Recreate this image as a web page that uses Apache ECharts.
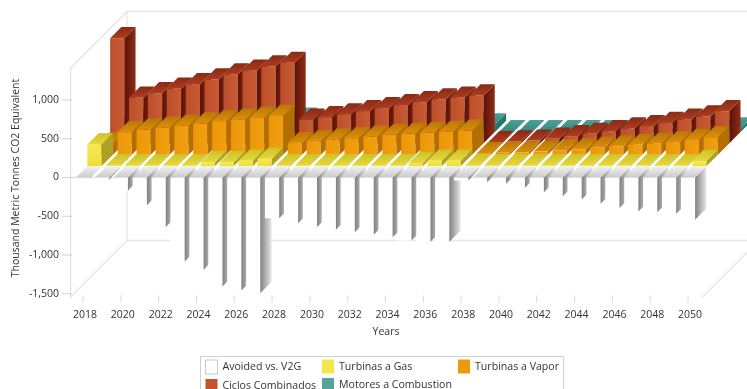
<!DOCTYPE html>
<html>
<head>
<meta charset="utf-8">
<style>html,body{margin:0;padding:0;background:#fff}#chart{width:747px;height:389px}</style>
<script src="https://cdn.jsdelivr.net/npm/echarts@6/dist/echarts.min.js"></script>
</head>
<body>
<div id="chart"></div>
<script>
// Annual emissions by technology, thousand metric tonnes CO2 equivalent
const years = [2018,2019,2020,2021,2022,2023,2024,2025,2026,2027,2028,2029,2030,2031,2032,2033,2034,2035,2036,2037,2038,2039,2040,2041,2042,2043,2044,2045,2046,2047,2048,2049,2050];
const avoided = [-5,-25,-168,-357,-640,-1084,-1190,-1406,-1458,-1493,-525,-590,-640,-675,-706,-740,-770,-813,-830,-830,-39,-60,-82,-133,-190,-242,-284,-340,-392,-439,-448,-469,-546];
const gas = [280,12,12,12,12,12,50,50,70,95,12,12,12,12,12,12,12,40,70,70,12,12,12,12,12,12,12,12,12,12,12,12,65];
const vapor = [145,291,321,347,374,403,433,452,478,500,149,174,196,213,235,256,269,282,295,312,20,25,30,40,55,67,89,106,127,140,161,191,226];
const ciclos = [1356,587,646,703,763,823,888,935,991,1038,303,337,372,414,453,492,530,565,587,617,15,25,35,58,92,122,156,191,221,264,303,346,415];
const motores = [150,150,150,150,150,150,150,150,150,170,130,130,130,130,130,130,130,130,130,95,8,8,8,8,8,8,8,8,8,8,8,8,45];

const yTicks = [-1500,-1000,-500,0,500,1000];
const yMinorTicks = [-1400,-1300,-1200,-1100,-900,-800,-700,-600,-400,-300,-200,-100,100,200,300,400,600,700,800,900,1100,1200,1300,1400];
const yearTicks = years.filter(y => y % 2 === 0);

// Projection used to fake the 3D look: each row sits further up and to the right
const BAR_W = 14.2, BAR_D = 11.2, ROW = 11.4, WALL = 57;
const X_MIN = 2017.31, X_MAX = 2050.74, Y_MIN = -1548, Y_MAX = 1406;

const grad = (x2, y2, a, b) => ({type:'linear', x:0, y:0, x2, y2, colorStops:[{offset:0,color:a},{offset:1,color:b}]});

const PALETTE = {
  avoided: {front:'#ffffff', top:grad(0,1,'#f0f0f0','#cbcbcb'), side:grad(1,0,'#808080','#e6e6e6')},
  gas:     {front:grad(0,1,'#f6ea52','#efdc38'), top:grad(0,1,'#cfc226','#e6d83c'), side:'#aca122'},
  vapor:   {front:grad(1,0,'#ec9608','#f0a012'), top:grad(0,1,'#b87806','#dc8e08'), side:'#b46f03'},
  ciclos:  {front:grad(1,0,'#bd4e2b','#c85a34'), top:grad(0,1,'#8a2a14','#ac3c1f'), side:grad(1,0,'#5c1206','#8f2c18')},
  motores: {front:'#55a399', top:grad(0,1,'#4f9f96','#32897f'), side:'#28756c'}
};

function poly(points, fill) {
  return {type:'polygon', shape:{points}, style:{fill, stroke:null}};
}

// One row of extruded bars; row 0 is the front row
function barRow(name, values, row, colors, legendColor) {
  return {
    type:'custom', name, z:10-row, clip:false, silent:true,
    itemStyle:{color:legendColor},
    data: years.map((y,i) => [y, values[i]]),
    renderItem(params, api) {
      const base = api.coord([api.value(0), 0]);
      const end = api.coord([api.value(0), api.value(1)]);
      const shift = row * ROW;
      const l = base[0] - BAR_W/2 + shift, r = l + BAR_W;
      const y0 = base[1] - shift, y1 = end[1] - shift;
      const top = Math.min(y0, y1), bot = Math.max(y0, y1);
      const children = [
        poly([[l,top],[r,top],[r,bot],[l,bot]], colors.front),
        poly([[r,top],[r+BAR_D,top-BAR_D],[r+BAR_D,bot-BAR_D],[r,bot]], colors.side),
        poly([[l,top],[r,top],[r+BAR_D,top-BAR_D],[l+BAR_D,top-BAR_D]], colors.top)
      ];
      return {type:'group', children};
    }
  };
}

// Box outlines and axis ticks behind the bars
const wallSeries = {
  type:'custom', name:'walls', z:1, clip:false, silent:true,
  data:[[X_MIN, Y_MIN]],
  renderItem(params, api) {
    const a = api.coord([X_MIN, Y_MIN]);
    const b = api.coord([X_MAX, Y_MAX]);
    const line = (x1,y1,x2,y2,stroke='#e6e6e6',lineWidth=1.3) => ({type:'line', shape:{x1,y1,x2,y2}, style:{stroke, lineWidth}});
    const L = a[0], R = b[0], B = a[1], T = b[1];
    const yMajor = yTicks.map(v => { const y = api.coord([X_MIN, v])[1]; return line(L-8,y,L+2,y,'#d0d0d0',1); });
    const yMinor = yMinorTicks.map(v => { const y = api.coord([X_MIN, v])[1]; return line(L,y,L+2.5,y,'#ebebeb',1); });
    const xMajor = yearTicks.map(v => { const x = api.coord([v, Y_MIN])[0]; return line(x,B-2,x,B+5,'#d8d8d8',1); });
    return {type:'group', children:[
      line(L,T,L+WALL,T-WALL),
      line(L+WALL,T-WALL,R+WALL,T-WALL),
      line(L+WALL,T-WALL,L+WALL,B-WALL),
      line(L,B,L+WALL,B-WALL),
      line(L+WALL,B-WALL,R+WALL,B-WALL),
      line(R,B,R+WALL,B-WALL)
    ].concat(yMajor, yMinor, xMajor)};
  }
};

const textStyle = {fontFamily:'"Open Sans", sans-serif', fontSize:10.5, color:'#333333'};

function legendColumn(left, names) {
  return {
    left, top:359.5, height:60, orient:'vertical', itemWidth:12, itemHeight:14, itemGap:4.5,
    padding:0, selectedMode:false,
    textStyle:Object.assign({}, textStyle, {fontSize:10.6}),
    data:names
  };
}

const chart = echarts.init(document.getElementById('chart'), null, {renderer:'canvas'});
chart.setOption({
  animation:false,
  backgroundColor:'#ffffff',
  grid:{left:70, right:45, top:68.5, bottom:91.5, containLabel:false, outerBoundsMode:'none'},
  graphic:[{
    type:'rect', z:0, silent:true,
    shape:{x:200.5, y:356.5, width:363, height:40},
    style:{fill:'#fff', stroke:'#cfcfcf', lineWidth:1}
  }],
  legend:[
    legendColumn(205, [
      {name:'Avoided vs. V2G', icon:'rect', itemStyle:{color:'#ffffff', borderColor:'#c8c8c8', borderWidth:1}},
      {name:'Ciclos Combinados', icon:'rect', itemStyle:{color:'#c4532e'}}
    ]),
    legendColumn(322, [
      {name:'Turbinas a Gas', icon:'rect', itemStyle:{color:'#f3e64a'}},
      {name:'Motores a Combustion', icon:'rect', itemStyle:{color:'#55a399'}}
    ]),
    legendColumn(458, [
      {name:'Turbinas a Vapor', icon:'rect', itemStyle:{color:'#ec9a0c'}}
    ])
  ],
  xAxis:{
    type:'value', min:X_MIN, max:X_MAX,
    name:'Years', nameLocation:'middle', nameGap:29, nameTextStyle:textStyle,
    splitLine:{show:false},
    axisLine:{show:true, lineStyle:{color:'#e3e3e3', width:1.3}},
    axisTick:{show:false},
    axisLabel:Object.assign({}, textStyle, {customValues:yearTicks, margin:12, padding:[0,0,0,4], formatter:v => String(v)})
  },
  yAxis:{
    type:'value', min:Y_MIN, max:Y_MAX,
    name:'Thousand Metric Tonnes CO2 Equivalent', nameLocation:'middle', nameRotate:90, nameGap:48, nameMoveOverlap:false,
    nameTextStyle:Object.assign({}, textStyle, {fontSize:10.5, padding:[0,0,0,10]}),
    splitLine:{show:false},
    axisLine:{show:true, lineStyle:{color:'#e3e3e3', width:1.3}},
    axisTick:{show:false},
    axisLabel:Object.assign({}, textStyle, {customValues:yTicks, margin:11, formatter:v => v.toLocaleString('en-US')})
  },
  series:[
    wallSeries,
    barRow('Motores a Combustion', motores, 4, PALETTE.motores, '#55a399'),
    barRow('Ciclos Combinados', ciclos, 3, PALETTE.ciclos, '#c4532e'),
    barRow('Turbinas a Vapor', vapor, 2, PALETTE.vapor, '#ec9a0c'),
    barRow('Turbinas a Gas', gas, 1, PALETTE.gas, '#f3e64a'),
    barRow('Avoided vs. V2G', avoided, 0, PALETTE.avoided, '#ffffff')
  ]
});
</script>
</body>
</html>
